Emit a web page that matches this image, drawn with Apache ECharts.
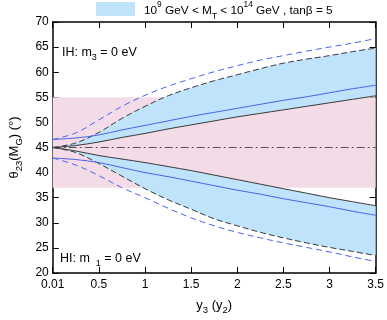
<!DOCTYPE html>
<html>
<head>
<meta charset="utf-8">
<script src="https://cdn.jsdelivr.net/npm/echarts@6/dist/echarts.min.js"></script>
<style>
html,body{margin:0;padding:0;background:#fff;}
#c{width:387px;height:320px;}
</style>
</head>
<body>
<div id="c"></div>
<script>
// x values (y3 (y2)), evenly spaced samples
var xs = ['0.01', '0.25', '0.5', '0.75', '1', '1.25', '1.5', '1.75', '2', '2.25', '2.5', '2.75', '3', '3.25', '3.5'];
// IH (upper) curves
var ihBlackSolid  = [45.0, 45.4, 46.1, 47.0, 47.8, 48.7, 49.5, 50.3, 51.1, 51.8, 52.5, 53.2, 53.9, 54.6, 55.3];
var ihBlackDashed = [45.0, 45.9, 48.0, 50.8, 53.2, 55.3, 56.9, 58.3, 59.5, 60.7, 61.8, 62.6, 63.3, 64.1, 64.8];
var ihBlueSolid   = [46.6, 46.9, 47.5, 48.5, 49.4, 50.3, 51.2, 52.0, 52.8, 53.6, 54.4, 55.1, 55.9, 56.7, 57.4];
var ihBlueDashed  = [46.6, 47.9, 50.5, 53.2, 55.4, 57.2, 58.7, 60.1, 61.3, 62.4, 63.3, 64.2, 65.0, 65.8, 66.7];
// HI (lower) curves
var hiBlackSolid  = [45.0, 44.3, 43.4, 42.7, 42.0, 41.2, 40.4, 39.5, 38.6, 37.7, 36.8, 35.9, 35.0, 34.2, 33.4];
var hiBlackDashed = [45.0, 44.0, 41.8, 39.3, 36.8, 34.6, 32.7, 30.8, 29.4, 28.1, 27.0, 26.0, 25.1, 24.3, 23.5];
var hiBlueSolid   = [42.9, 42.6, 42.0, 41.0, 40.0, 39.2, 38.3, 37.4, 36.5, 35.7, 34.8, 34.0, 33.2, 32.3, 31.5];
var hiBlueDashed  = [42.9, 41.5, 39.4, 37.0, 35.0, 32.9, 31.0, 29.4, 28.1, 27.0, 26.0, 25.1, 24.2, 23.2, 22.3];
// reference values
var maxMixing = 45;
var band3sigma = [37, 55];
// y axis
var yMin = 20, yMax = 70, yStep = 5;

function diff(a, b) { return a.map(function (v, i) { return +(v - b[i]).toFixed(3); }); }

var FONT = 'Liberation Sans';
var BLUE = '#4a62ee';
var DARK = '#3a3a3a';
var FILL = '#bfe3fa';
var PINK = '#f3dbe8';
var RED = '#8b1c1c';

var chart = echarts.init(document.getElementById('c'), null, {renderer: 'canvas'});

function richColored(c, fs) {
  return {
    n: {fontSize: fs, lineHeight: 20, fontFamily: FONT, color: c},
    sub: {fontSize: fs - 3.5, lineHeight: 10, verticalAlign: 'bottom', fontFamily: FONT, color: c},
    sup: {fontSize: fs - 3.5, lineHeight: 10, verticalAlign: 'top', fontFamily: FONT, color: c}
  };
}

var lineCommon = {type: 'line', smooth: 0.35, symbol: 'none', z: 5, silent: true};

var option = {
  animation: false,
  backgroundColor: '#fff',
  grid: {left: 43, right: 9, top: 22, bottom: 40},
  xAxis: [{
    type: 'category', data: xs, boundaryGap: false,
    axisLine: {lineStyle: {color: '#000', width: 1.5}},
    axisTick: {inside: true, length: 6, interval: 1, lineStyle: {color: '#000', width: 1}},
    axisLabel: {fontFamily: FONT, fontSize: 12, color: '#000', margin: 6, interval: 1},
    splitLine: {show: false},
    name: '{n|y}{sub|3}{n| (y}{sub|2}{n|)}',
    nameLocation: 'middle', nameGap: 22,
    nameTextStyle: {rich: richColored('#000', 13)}
  }, {
    type: 'category', data: xs, boundaryGap: false, position: 'top',
    axisLine: {lineStyle: {color: '#000', width: 1.5}},
    axisTick: {inside: true, length: 6, interval: 1, lineStyle: {color: '#000', width: 1}},
    axisLabel: {show: false}, splitLine: {show: false}
  }],
  yAxis: [{
    type: 'value', min: yMin, max: yMax, interval: yStep,
    axisLine: {show: true, lineStyle: {color: '#000', width: 1.5}},
    axisTick: {show: true, inside: true, length: 6, lineStyle: {color: '#000', width: 1}},
    axisLabel: {fontFamily: FONT, fontSize: 12, color: '#000', margin: 4},
    splitLine: {show: false},
    name: '{n|θ}{sub|23}{n|(M}{sub|G}{n|) (°)}',
    nameLocation: 'middle', nameRotate: 90, nameGap: 26,
    nameTextStyle: {rich: richColored('#000', 13)}
  }, {
    type: 'value', min: yMin, max: yMax, interval: yStep, position: 'right',
    axisLine: {show: true, lineStyle: {color: '#000', width: 1.5}},
    axisTick: {show: true, inside: true, length: 6, lineStyle: {color: '#000', width: 1}},
    axisLabel: {show: false}, splitLine: {show: false}
  }],
  series: [
    // pink band
    {type: 'line', data: [], z: 1, silent: true,
      markArea: {silent: true, itemStyle: {color: PINK}, data: [[{yAxis: band3sigma[0]}, {yAxis: band3sigma[1]}]]}},
    // upper fill (stacked)
    Object.assign({}, lineCommon, {stack: 'up', z: 2, data: ihBlackSolid, lineStyle: {width: 0, opacity: 0}}),
    Object.assign({}, lineCommon, {stack: 'up', z: 2, data: diff(ihBlackDashed, ihBlackSolid), lineStyle: {width: 0, opacity: 0}, areaStyle: {color: FILL, opacity: 1}}),
    // lower fill (stacked)
    Object.assign({}, lineCommon, {stack: 'lo', z: 2, data: hiBlackDashed, lineStyle: {width: 0, opacity: 0}}),
    Object.assign({}, lineCommon, {stack: 'lo', z: 2, data: diff(hiBlackSolid, hiBlackDashed), lineStyle: {width: 0, opacity: 0}, areaStyle: {color: FILL, opacity: 1}}),
    // max mixing line
    {type: 'line', data: [], z: 4, silent: true,
      markLine: {silent: true, symbol: 'none', label: {show: false},
        lineStyle: {color: '#555', width: 1, type: [8, 3, 2, 3]},
        data: [{yAxis: maxMixing}]}},
    // curves
    Object.assign({}, lineCommon, {data: ihBlackSolid, lineStyle: {color: DARK, width: 1}}),
    Object.assign({}, lineCommon, {data: ihBlackDashed, lineStyle: {color: DARK, width: 1, type: [6, 3]}}),
    Object.assign({}, lineCommon, {data: ihBlueSolid, lineStyle: {color: BLUE, width: 1}}),
    Object.assign({}, lineCommon, {data: ihBlueDashed, lineStyle: {color: BLUE, width: 1, type: [6, 4]}}),
    Object.assign({}, lineCommon, {data: hiBlackSolid, lineStyle: {color: DARK, width: 1}}),
    Object.assign({}, lineCommon, {data: hiBlackDashed, lineStyle: {color: DARK, width: 1, type: [6, 3]}}),
    Object.assign({}, lineCommon, {data: hiBlueSolid, lineStyle: {color: BLUE, width: 1}}),
    Object.assign({}, lineCommon, {data: hiBlueDashed, lineStyle: {color: BLUE, width: 1, type: [6, 4]}})
  ],
  graphic: [
    {type: 'rect', left: 96, top: 2, shape: {width: 39, height: 14}, style: {fill: FILL}, z: 10},
    {type: 'text', left: 144, top: 1, z: 10,
      style: {text: '{n|10}{sup|9}{n| GeV < M}{sub|T}{n| < 10}{sup|14}{n| GeV , tanβ = 5}', rich: richColored('#000', 11.8)}},
    {type: 'text', left: 62, top: 46, z: 10,
      style: {text: '{n|IH: m}{sub|3}{n| = 0 eV}', rich: richColored(RED, 12.5)}},
    {type: 'text', left: 60, top: 252, z: 10,
      style: {text: '{n|HI: m }{sub| 1}{n| = 0 eV}', rich: richColored(RED, 12.5)}}
  ]
};
chart.setOption(option);
</script>
</body>
</html>
